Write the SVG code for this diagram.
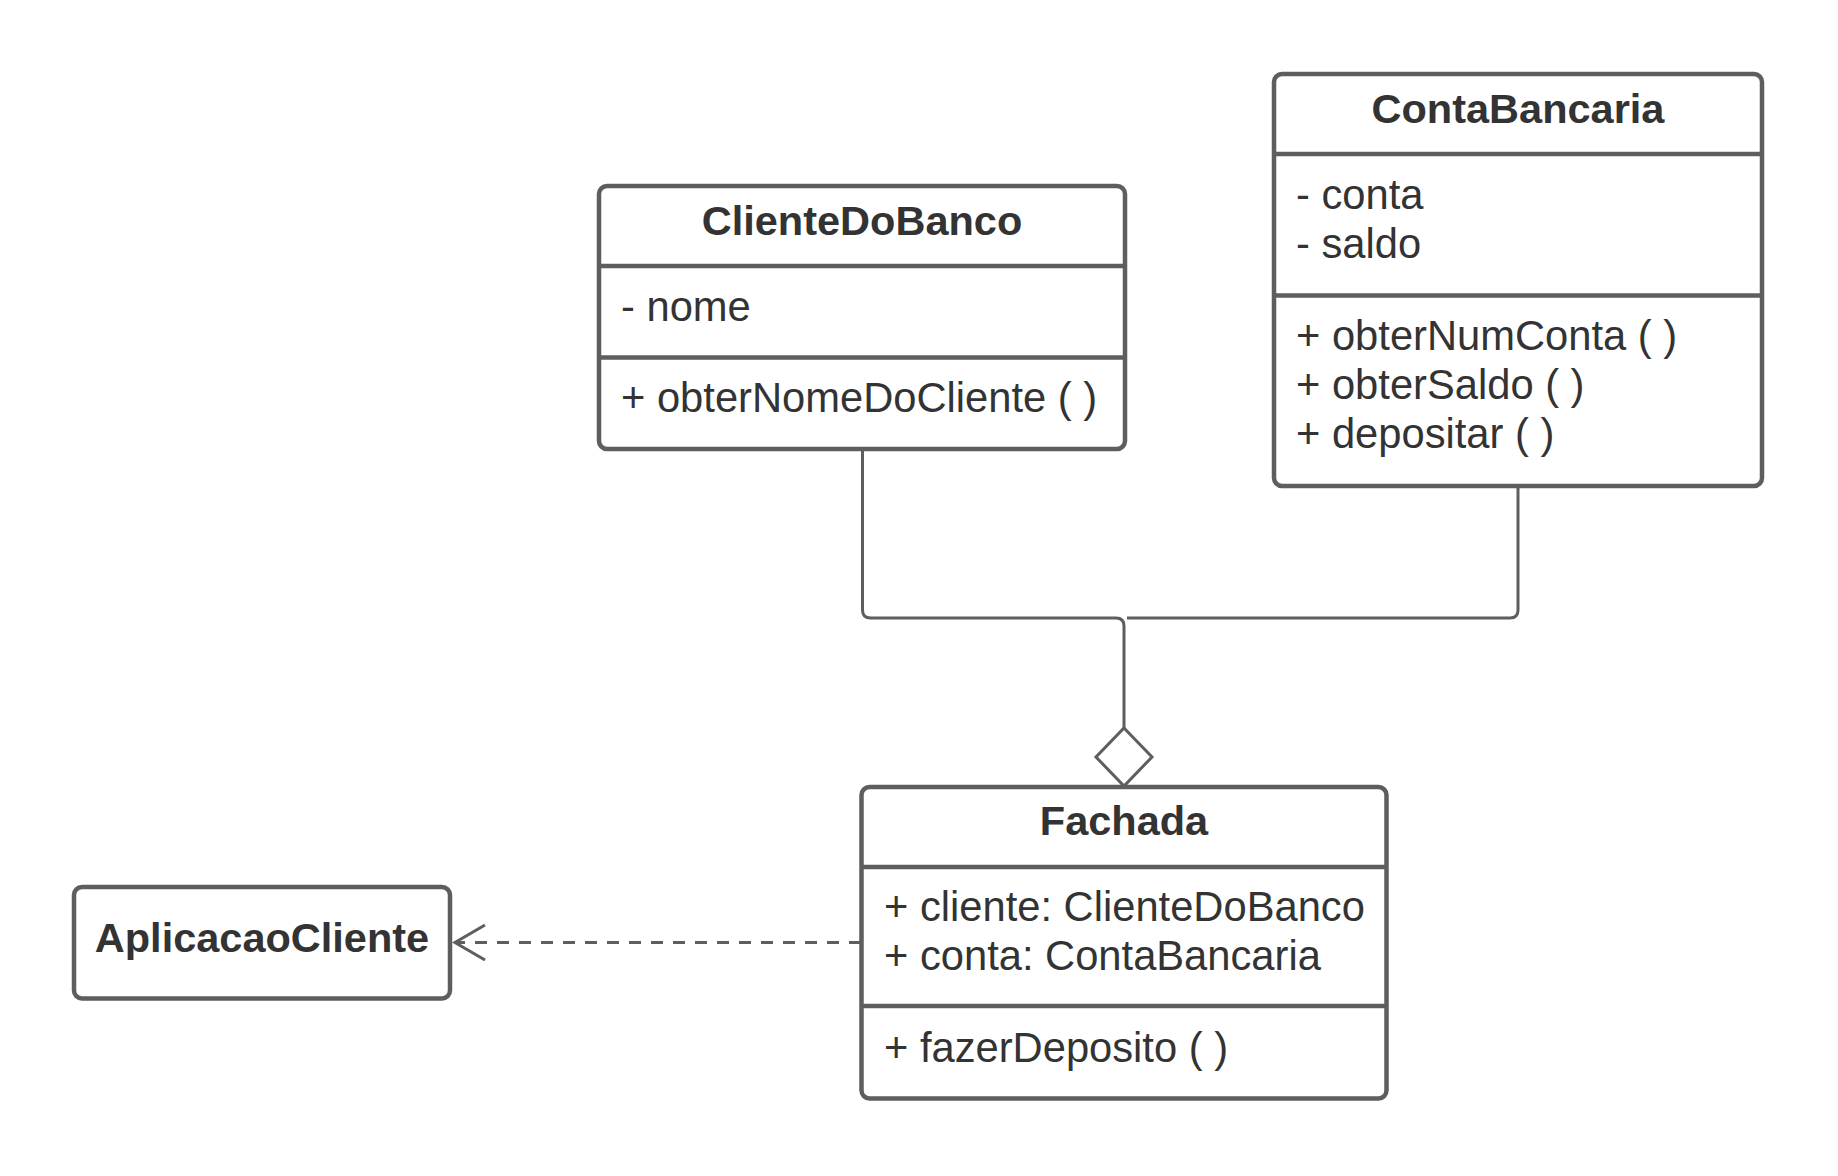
<svg xmlns="http://www.w3.org/2000/svg" width="1838" height="1176" viewBox="0 0 1838 1176">
  <style>
    .box { fill: #ffffff; stroke: #5e5e5e; stroke-width: 4.5; }
    .div { stroke: #5e5e5e; stroke-width: 4.5; }
    .title { font-family: "Liberation Sans", Arial, sans-serif; font-weight: bold; font-size: 41.5px; fill: #333333; text-anchor: middle; }
    .txt { font-family: "Liberation Sans", Arial, sans-serif; font-size: 41.7px; fill: #333333; }
    .conn { fill: none; stroke: #5e5e5e; stroke-width: 3; }
  </style>
  <rect width="1838" height="1176" fill="#ffffff"/>

  <g id="connectors">
    <path class="conn" d="M 862.5 449 L 862.5 610 Q 862.5 618 870.5 618 L 1116 618 Q 1124 618 1124 626 L 1124 728"/>
    <path class="conn" d="M 1518 486 L 1518 610 Q 1518 618 1510 618 L 1127 618"/>
    <polygon class="conn" fill="#ffffff" points="1124,728 1152,757 1124,786 1096,757"/>
    <path class="conn" d="M 861 942.5 L 455 942.5" stroke-dasharray="12 10"/>
    <path class="conn" d="M 485 925 L 455 942.5 L 485 960"/>
  </g>

  <g id="ClienteDoBanco">
    <rect class="box" x="599" y="186" width="526" height="263" rx="8"/>
    <line class="div" x1="599" y1="266" x2="1125" y2="266"/>
    <line class="div" x1="599" y1="357.5" x2="1125" y2="357.5"/>
    <text class="title" x="862" y="235">ClienteDoBanco</text>
    <text class="txt" x="621" y="320.5">- nome</text>
    <text class="txt" x="621" y="412">+ obterNomeDoCliente ( )</text>
  </g>

  <g id="ContaBancaria">
    <rect class="box" x="1274" y="74" width="488" height="412" rx="8"/>
    <line class="div" x1="1274" y1="154" x2="1762" y2="154"/>
    <line class="div" x1="1274" y1="295.5" x2="1762" y2="295.5"/>
    <text class="title" x="1518" y="123">ContaBancaria</text>
    <text class="txt" x="1296" y="208.5">- conta</text>
    <text class="txt" x="1296" y="257.5">- saldo</text>
    <text class="txt" x="1296" y="350">+ obterNumConta ( )</text>
    <text class="txt" x="1296" y="399">+ obterSaldo ( )</text>
    <text class="txt" x="1296" y="448">+ depositar ( )</text>
  </g>

  <g id="Fachada">
    <rect class="box" x="861.5" y="787" width="525" height="311.5" rx="8"/>
    <line class="div" x1="861.5" y1="867" x2="1386.5" y2="867"/>
    <line class="div" x1="861.5" y1="1006" x2="1386.5" y2="1006"/>
    <text class="title" x="1124" y="835">Fachada</text>
    <text class="txt" x="884" y="921">+ cliente: ClienteDoBanco</text>
    <text class="txt" x="884" y="970">+ conta: ContaBancaria</text>
    <text class="txt" x="884" y="1061.5">+ fazerDeposito ( )</text>
  </g>

  <g id="AplicacaoCliente">
    <rect class="box" x="74" y="887" width="376" height="111.5" rx="8"/>
    <text class="title" x="262" y="951.5">AplicacaoCliente</text>
  </g>
</svg>
